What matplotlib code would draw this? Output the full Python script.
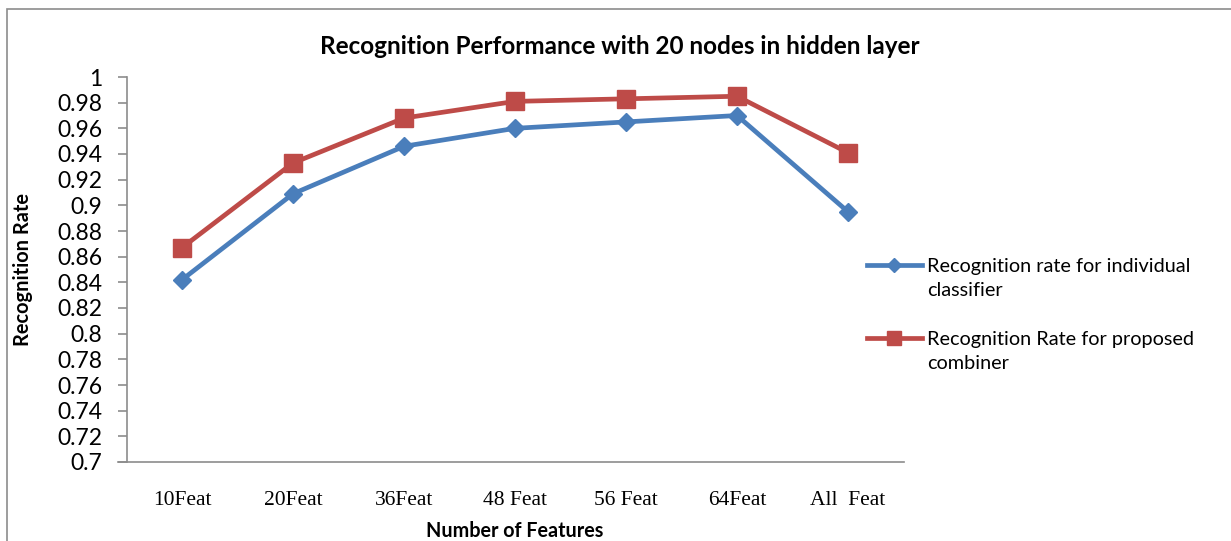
import matplotlib
matplotlib.use("Agg")
import matplotlib.pyplot as plt
from matplotlib.patches import Rectangle
from matplotlib.lines import Line2D

plt.rcParams['font.family'] = ['Lato', 'DejaVu Sans']

# data
features = ['10Feat', '20Feat', '36Feat', '48 Feat', '56 Feat', '64Feat', 'All  Feat']
individual = [0.842, 0.909, 0.946, 0.960, 0.965, 0.970, 0.895]
combiner = [0.867, 0.933, 0.968, 0.981, 0.983, 0.985, 0.941]
yticks = [0.7, 0.72, 0.74, 0.76, 0.78, 0.8, 0.82, 0.84, 0.86, 0.88, 0.9,
          0.92, 0.94, 0.96, 0.98, 1]
series_names = ['Recognition rate for individual\nclassifier',
                'Recognition Rate for proposed\ncombiner']

W, H = 1231, 541
fig = plt.figure(figsize=(W / 100, H / 100), dpi=100)
ax = fig.add_axes([126.5 / W, 1 - 462 / H, 777 / W, 385 / H])

# outer chart frame
fig.patches.append(Rectangle((7 / W, -0.05), 1.1, 1 - 9 / H + 0.05,
                             transform=fig.transFigure, fill=False,
                             edgecolor='#8c8c8c', linewidth=1.2))

blue, red = '#4a7ebb', '#be4b48'
x = range(len(features))
ax.plot(x, individual, color=blue, linewidth=3.4, marker='D', markersize=9.5)
ax.plot(x, combiner, color=red, linewidth=3.4, marker='s', markersize=13)

ax.set_xlim(-0.5, len(features) - 0.5)
ax.set_ylim(0.7, 1.0)
ax.set_yticks(yticks)
ax.set_yticklabels(['%g' % v for v in yticks], fontsize=16.5)
ax.set_xticks(list(x))
ax.set_xticklabels(features, fontsize=15.5, family='Liberation Serif')
ax.tick_params(axis='x', length=0, pad=21)
ax.tick_params(axis='y', length=6.5, width=1.2, direction='out', color='#8c8c8c', pad=11)

for s in ['top', 'right']:
    ax.spines[s].set_visible(False)
for s in ['left', 'bottom']:
    ax.spines[s].set_color('#8c8c8c')
    ax.spines[s].set_linewidth(1.2)
# bottom axis runs a little past the value axis, as in Excel
ax.spines['bottom'].set_bounds(-0.5 - 9 / 111, len(features) - 0.5)

fig.text(620 / W, 1 - 47 / H, 'Recognition Performance with 20 nodes in hidden layer',
         fontsize=17.5, fontweight='bold', ha='center', va='center')
ax.set_xlabel('Number of Features', fontsize=14.2, fontweight='bold', labelpad=8)
ax.set_ylabel('Recognition Rate', fontsize=14.4, fontweight='bold')
ax.yaxis.set_label_coords(-0.1197, 0.5)

# legend drawn Excel-style: handle aligned to first text line
for name, col, mk, ms, yl in [(series_names[0], blue, 'D', 7, 265),
                              (series_names[1], red, 's', 10, 338)]:
    fig.add_artist(Line2D([867 / W, 922 / W], [1 - yl / H] * 2, color=col,
                          linewidth=3.4, transform=fig.transFigure))
    fig.add_artist(Line2D([894.5 / W], [1 - yl / H], color=col, marker=mk,
                          markersize=ms, transform=fig.transFigure))
    fig.text(927 / W, 1 - (yl - 7) / H, name, fontsize=14.3, ha='left', va='top',
             linespacing=1.48)

fig.savefig('out.png', dpi=100)
